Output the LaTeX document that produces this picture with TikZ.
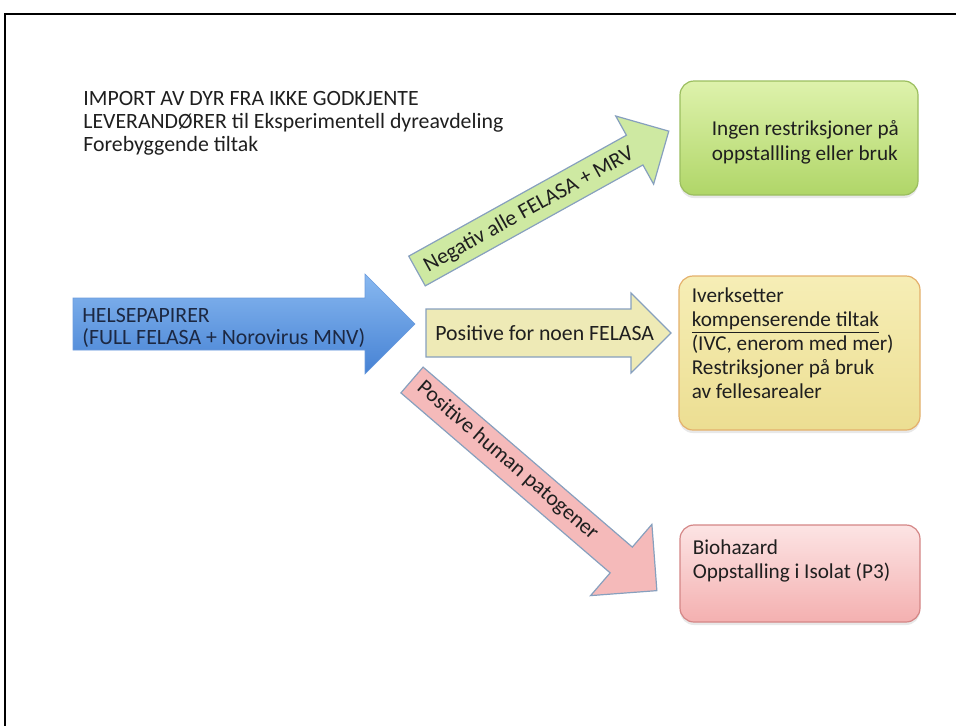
\documentclass[tikz,border=0pt]{standalone}
\usepackage{fontspec}
\setmainfont{Carlito}
\usepackage{tikz}
\usetikzlibrary{positioning,calc,shadows}

\definecolor{edgegray}{RGB}{135,160,190}
\definecolor{bluetop}{RGB}{136,184,240}
\definecolor{bluebot}{RGB}{70,130,212}
\definecolor{greenarr}{RGB}{206,233,162}
\definecolor{yellowarr}{RGB}{238,234,182}
\definecolor{pinkarr}{RGB}{245,186,186}
\definecolor{greentop}{RGB}{222,242,172}
\definecolor{greenbot}{RGB}{176,214,104}
\definecolor{greenedge}{RGB}{155,190,95}
\definecolor{yellowtop}{RGB}{246,238,182}
\definecolor{yellowbot}{RGB}{236,222,146}
\definecolor{yellowedge}{RGB}{228,176,108}
\definecolor{pinktop}{RGB}{252,228,228}
\definecolor{pinkbot}{RGB}{244,176,176}
\definecolor{pinkedge}{RGB}{212,134,134}
\definecolor{navytext}{RGB}{28,40,66}

\tikzstyle{txt} = [inner sep=0pt, align=left, text=black!88, font=\fontsize{10.6}{12}\selectfont]
\tikzstyle{arrowtext} = [inner sep=0pt, align=left, text=black!88, font=\fontsize{10.9}{11}\selectfont]
\tikzstyle{box} = [rounded corners=7pt, line width=0.6pt, minimum width=120pt, drop shadow={opacity=0.18, shadow xshift=0pt, shadow yshift=-1.5pt}]

\newcommand{\blockarrow}[9]{%
	\begin{scope}[shift={#3}, rotate=#4]
		\path[#2] (0,-#6) -- ({#5-#7},-#6) -- ({#5-#7},-#7) -- (#5,0) -- ({#5-#7},#7) -- ({#5-#7},#6) -- (0,#6) -- cycle;
		\node[arrowtext, anchor=west, transform shape] (#1) at (9,#9) {#8};
	\end{scope}}

\begin{document}
\begin{tikzpicture}[x=0.5pt,y=0.5pt]
	\useasboundingbox (0,0) rectangle (956,725);
	\draw[line width=1pt] (5,-5) -- (5,711) -- (962,711);
	\node[txt, align=left, anchor=north west, font=\fontsize{10.9}{11.5}\selectfont] (title) at (83,634)
		{IMPORT AV DYR FRA IKKE GODKJENTE\\LEVERANDØRER til Eksperimentell dyreavdeling\\Forebyggende tiltak};
	\node[box, draw=greenedge, top color=greentop, bottom color=greenbot, minimum width=119pt, minimum height=57pt] (nores) at (799,587) {};
	\node[txt, anchor=west, font=\fontsize{10.6}{12.5}\selectfont] (norest) at ([shift={(32,-4)}]nores.west)
		{Ingen restriksjoner på\\oppstallling eller bruk};
	\node[box, draw=yellowedge, top color=yellowtop, bottom color=yellowbot, minimum width=120.5pt, minimum height=77pt] (komp) at (799.5,372) {};
	\node[txt, anchor=north west] (kompt) at ([shift={(13,-12)}]komp.north west)
		{Iverksetter\\\underline{kompenserende tiltak}\\(IVC, enerom med mer)\\Restriksjoner på bruk\\av fellesarealer};
	\node[box, draw=pinkedge, top color=pinktop, bottom color=pinkbot, minimum height=48.5pt] (bio) at (800,151.5) {};
	\node[txt, anchor=north west] (biot) at ([shift={(13,-15)}]bio.north west)
		{Biohazard\\Oppstalling i Isolat (P3)};
	\blockarrow{helse}{top color=bluetop, bottom color=bluebot, draw=bluebot!80, line width=0.3pt}{(73,401)}{0}{342}{26}{50}{\textcolor{navytext}{HELSEPAPIRER}\\\textcolor{navytext}{(FULL FELASA + Norovirus MNV)}}{-4}
	\blockarrow{neg}{fill=greenarr, draw=edgegray, line width=0.6pt}{(417,454)}{29.05}{288}{17}{39}{Negativ alle FELASA + MRV}{-1}
	\blockarrow{posf}{fill=yellowarr, draw=edgegray, line width=0.6pt}{(426,392)}{0}{245}{24}{40}{Positive for noen FELASA}{0}
	\blockarrow{posh}{fill=pinkarr, draw=edgegray, line width=0.6pt}{(412,345)}{-40.7}{323}{17}{47}{Positive human patogener}{1}
\end{tikzpicture}
\end{document}
